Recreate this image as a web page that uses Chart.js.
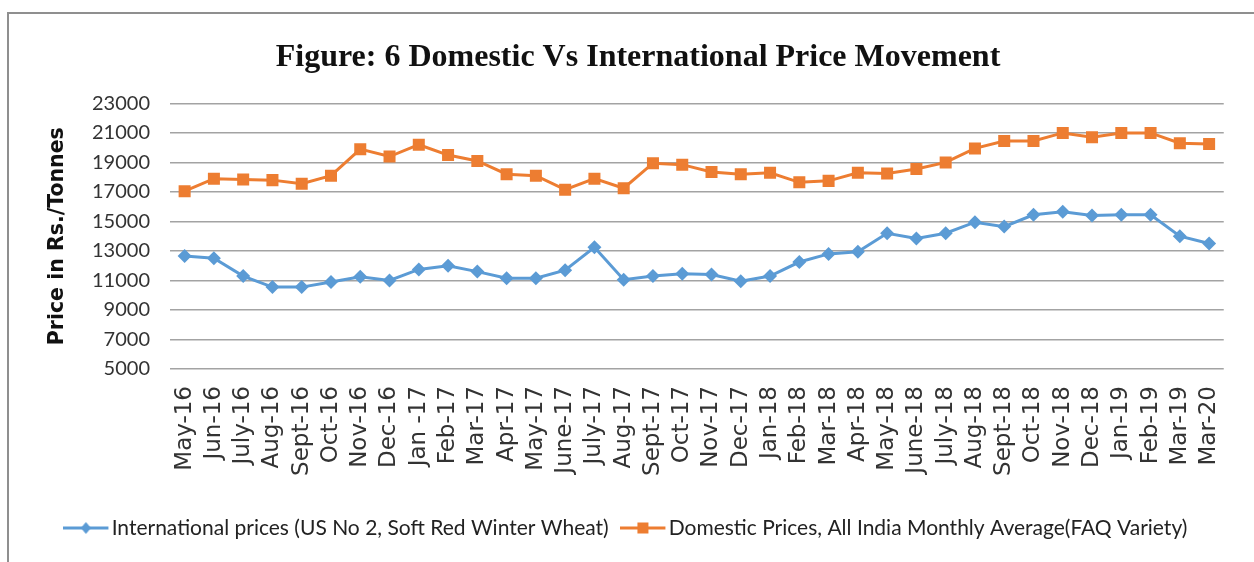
<!DOCTYPE html>
<html>
<head>
<meta charset="utf-8">
<script src="https://cdn.jsdelivr.net/npm/chart.js@4/dist/chart.umd.min.js"></script>
<style>
    html, body { margin: 0; padding: 0; background: #ffffff; }
    #wrap { position: relative; width: 1254px; height: 562px; }
    #frame {
        position: absolute; left: 7px; top: 12px; right: 0; bottom: 0;
        border-top: 2px solid #8f8f8f; border-left: 2px solid #8f8f8f;
        pointer-events: none;
    }
    canvas { position: absolute; left: 0; top: 0; }
</style>
</head>
<body>
<div id="wrap">
    <canvas id="priceChart" width="1254" height="562"></canvas>
    <div id="frame"></div>
</div>
<script>
const monthLabels = [
    "May-16", "Jun-16", "July-16", "Aug-16", "Sept-16", "Oct-16", "Nov-16", "Dec-16",
    "Jan -17", "Feb-17", "Mar-17", "Apr-17", "May-17", "June-17", "July-17", "Aug-17",
    "Sept-17", "Oct-17", "Nov-17", "Dec-17", "Jan-18", "Feb-18", "Mar-18", "Apr-18",
    "May-18", "June-18", "July-18", "Aug-18", "Sept-18", "Oct-18", "Nov-18", "Dec-18",
    "Jan-19", "Feb-19", "Mar-19", "Mar-20"
];

const internationalPrices = [
    12650, 12500, 11300, 10550, 10550, 10900, 11250, 11000,
    11750, 12000, 11600, 11150, 11150, 11700, 13250, 11050,
    11300, 11450, 11400, 10950, 11300, 12250, 12800, 12950,
    14200, 13850, 14200, 14950, 14650, 15450, 15650, 15400,
    15450, 15450, 14000, 13500
];

const domesticPrices = [
    17050, 17900, 17850, 17800, 17550, 18100, 19900, 19400,
    20200, 19500, 19100, 18200, 18100, 17150, 17900, 17250,
    18950, 18850, 18350, 18200, 18300, 17650, 17750, 18300,
    18250, 18550, 19000, 19950, 20450, 20450, 21000, 20700,
    21000, 21000, 20300, 20250
];

const seriesNames = [
    "International prices (US No 2, Soft Red Winter Wheat)",
    "Domestic Prices, All India Monthly Average(FAQ Variety)"
];

const yTicks = [5000, 7000, 9000, 11000, 13000, 15000, 17000, 19000, 21000, 23000];

const blue = "#5b9bd5";
const orange = "#ed7d31";

// "line + marker" pictures for the legend; the visible part sits in the left 45px
function legendMarker(color, shape) {
    let c = document.createElement("canvas");
    c.width = 63;
    c.height = 16;
    let ctx = c.getContext("2d");
    ctx.strokeStyle = color;
    ctx.lineWidth = 3;
    ctx.beginPath();
    ctx.moveTo(0, 8);
    ctx.lineTo(45, 8);
    ctx.stroke();
    ctx.fillStyle = color;
    ctx.beginPath();
    if (shape === "diamond") {
        ctx.moveTo(22.5, 2);
        ctx.lineTo(27.5, 8);
        ctx.lineTo(22.5, 14);
        ctx.lineTo(17.5, 8);
    } else {
        ctx.rect(17, 2.5, 11, 11);
    }
    ctx.closePath();
    ctx.fill();
    return c;
}

const legendMarkers = [legendMarker(blue, "diamond"), legendMarker(orange, "square")];

let chartData = {
    labels: monthLabels,
    datasets: [
        {
            label: seriesNames[0],
            data: internationalPrices,
            borderColor: blue,
            backgroundColor: blue,
            borderWidth: 3,
            pointStyle: "rectRot",
            pointRadius: 7,
            pointBorderWidth: 0,
            tension: 0
        },
        {
            label: seriesNames[1],
            data: domesticPrices,
            borderColor: orange,
            backgroundColor: orange,
            borderWidth: 3,
            pointStyle: "rect",
            pointRadius: 8.5,
            pointBorderWidth: 0,
            tension: 0
        }
    ]
};

let chartOptions = {
    responsive: false,
    animation: false,
    layout: {
        padding: { left: 43, right: 21, top: 0, bottom: 13.5 }
    },
    scales: {
        x: {
            offset: true,
            grid: { display: false, drawTicks: false },
            border: { display: false },
            ticks: {
                autoSkip: false,
                minRotation: 90,
                maxRotation: 90,
                padding: 17,
                color: "#333333",
                font: { family: "'DejaVu Sans'", size: 23 }
            },
            afterFit: function(scale) { scale.height = 111.5; }
        },
        y: {
            min: 5000,
            max: 23000,
            afterBuildTicks: function(scale) {
                scale.ticks = yTicks.map(v => ({ value: v }));
            },
            grid: { color: "#a3a3a3", lineWidth: 1.6, drawTicks: false },
            border: { display: false },
            ticks: {
                padding: 20,
                color: "#333333",
                font: { family: "Lato", size: 20 },
                callback: function(value) { return String(value); }
            },
            title: {
                display: true,
                text: "Price in Rs./Tonnes",
                color: "#111111",
                padding: { top: 2, bottom: 0 },
                font: { family: "'DejaVu Sans'", size: 20.5, weight: "bold" }
            },
            afterFit: function(scale) { scale.width = 127; }
        }
    },
    plugins: {
        title: {
            display: true,
            text: "Figure: 6 Domestic Vs International Price Movement",
            color: "#111111",
            padding: { top: 39, bottom: 26 },
            font: { family: "'Liberation Serif'", size: 32, weight: "bold" }
        },
        legend: {
            position: "bottom",
            labels: {
                usePointStyle: true,
                pointStyleWidth: 12.5,
                padding: 37,
                color: "#222222",
                font: { family: "Lato", size: 21 },
                generateLabels: function(chart) {
                    let items = Chart.defaults.plugins.legend.labels.generateLabels(chart);
                    items.forEach((item, i) => { item.pointStyle = legendMarkers[i]; });
                    return items;
                }
            }
        },
        tooltip: { enabled: false }
    }
};

new Chart(document.getElementById("priceChart").getContext("2d"), {
    type: "line",
    data: chartData,
    options: chartOptions
});
</script>
</body>
</html>
